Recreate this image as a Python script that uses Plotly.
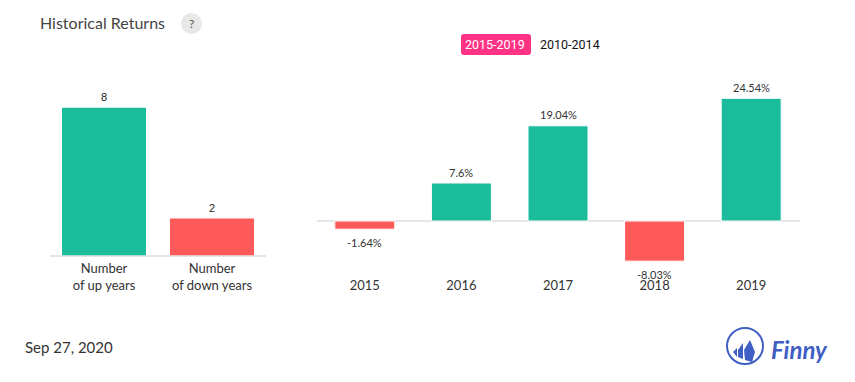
import plotly.graph_objects as go

W, H = 855, 382
GREEN, RED = "#1abc9c", "#ff5a5a"

count_labels = ["Number<br>of up years", "Number<br>of down years"]
count_values = [8, 2]
years = ["2015", "2016", "2017", "2018", "2019"]
returns = [-1.64, 7.6, 19.04, -8.03, 24.54]
return_labels = ["-1.64%", "7.6%", "19.04%", "-8.03%", "24.54%"]


def px(x):
    return x / W


def py(y):
    return 1 - y / H


fig = go.Figure()
fig.add_bar(x=count_labels, y=count_values, xaxis="x", yaxis="y", width=84 / 108,
            marker=dict(color=[GREEN, RED], line=dict(width=0)), hoverinfo="skip")
fig.add_bar(x=years, y=returns, xaxis="x2", yaxis="y2", width=60 / 96.6,
            marker=dict(color=[GREEN if v > 0 else RED for v in returns],
                        line=dict(color="white", width=1)), hoverinfo="skip")

axis_font = dict(family="Lato", size=13, color="#333333")
fig.update_layout(
    width=W, height=H, margin=dict(l=0, r=0, t=0, b=0, autoexpand=False), showlegend=False,
    paper_bgcolor="white", plot_bgcolor="white",
    xaxis=dict(domain=[px(50), px(266)], anchor="y", type="category", automargin=False, showgrid=False,
               zeroline=False, showline=False, ticks="outside", ticklen=1, tickcolor="rgba(0,0,0,0)",
               range=[-0.5, 1.5], tickfont=axis_font, tickangle=0),
    yaxis=dict(domain=[py(255.5), py(107.5)], range=[0, 8], anchor="x", automargin=False,
               showticklabels=False, ticks="", showgrid=False, zeroline=True,
               zerolinecolor="#e6e6e6", zerolinewidth=2),
    xaxis2=dict(domain=[px(316.5), px(799.5)], anchor="y2", type="category", automargin=False, showgrid=False,
                zeroline=False, showline=False, ticks="outside", ticklen=2, tickcolor="rgba(0,0,0,0)",
                range=[-0.5, 4.5], categoryorder="array", categoryarray=years,
                tickfont=axis_font, tickangle=0),
    yaxis2=dict(domain=[py(271), py(91)], range=[-10, 26], anchor="x2", automargin=False,
                showticklabels=False, ticks="", showgrid=False, zeroline=True,
                zerolinecolor="#e6e6e6", zerolinewidth=2),
)

ann = []
for i, v in enumerate(count_values):
    ann.append(dict(x=i, y=v, xref="x", yref="y", text=str(v), showarrow=False, yshift=10,
                    font=dict(family="Liberation Sans", size=11, color="#222222")))
for i, (v, t) in enumerate(zip(returns, return_labels)):
    ann.append(dict(x=i, y=v, xref="x2", yref="y2", text=t, showarrow=False,
                    yshift=11 if v > 0 else -13,
                    font=dict(family="Lato", size=11, color="#333333")))
ann += [
    dict(x=px(38), y=py(23), xref="paper", yref="paper", xanchor="left", yanchor="middle", showarrow=False,
         text="Historical Returns", font=dict(family="Lato", size=16, color="#444444")),
    dict(x=px(191.5), y=py(23.5), xref="paper", yref="paper", xanchor="center", yanchor="middle",
         showarrow=False, text="?", font=dict(family="Lato", size=12, color="#555555")),
    dict(x=px(495.5), y=py(45), xref="paper", yref="paper", xanchor="center", yanchor="middle",
         showarrow=False, text="2015-2019", font=dict(family="Roboto", size=12.5, color="white")),
    dict(x=px(570), y=py(45), xref="paper", yref="paper", xanchor="center", yanchor="middle",
         showarrow=False, text="2010-2014", font=dict(family="Roboto", size=12.5, color="#111111")),
    dict(x=px(23), y=py(347), xref="paper", yref="paper", xanchor="left", yanchor="middle", showarrow=False,
         text="Sep 27, 2020", font=dict(family="Lato", size=15, color="#333333")),
    dict(x=px(769), y=py(349), xref="paper", yref="paper", xanchor="left", yanchor="middle", showarrow=False,
         text="<b><i>Finny</i></b>", font=dict(family="Lato", size=24, color="#3f5fc4")),
]
fig.update_layout(annotations=ann)


def rel_path(points):
    return "M " + " L ".join(f"{px(x):.5f} {py(y):.5f}" for x, y in points) + " Z"


def round_rect(x0, y0, x1, y1, r):
    X = lambda v: f"{px(v):.5f}"
    Y = lambda v: f"{py(v):.5f}"
    return (f"M {X(x0 + r)} {Y(y0)} L {X(x1 - r)} {Y(y0)} Q {X(x1)} {Y(y0)} {X(x1)} {Y(y0 + r)} "
            f"L {X(x1)} {Y(y1 - r)} Q {X(x1)} {Y(y1)} {X(x1 - r)} {Y(y1)} "
            f"L {X(x0 + r)} {Y(y1)} Q {X(x0)} {Y(y1)} {X(x0)} {Y(y1 - r)} "
            f"L {X(x0)} {Y(y0 + r)} Q {X(x0)} {Y(y0)} {X(x0 + r)} {Y(y0)} Z")


BLUE = "#3f5fc4"
shapes = [
    dict(type="circle", xref="paper", yref="paper", x0=px(181), x1=px(202), y0=py(34), y1=py(13),
         fillcolor="#e8e8e8", line=dict(width=0), layer="below"),
    dict(type="path", xref="paper", yref="paper", path=round_rect(461, 34, 531, 55, 3),
         fillcolor="#ff3385", line=dict(width=0), layer="below"),
    dict(type="circle", xref="paper", yref="paper", x0=px(727), x1=px(763), y0=py(364), y1=py(328),
         line=dict(color=BLUE, width=2), fillcolor="white", layer="below"),
]
for pts in [
    [(737, 348), (733, 352), (737, 357)],
    [(743, 343), (738, 350), (738, 357), (743, 359)],
    [(750, 340), (744, 350), (745, 360), (752, 362), (755, 352)],
]:
    shapes.append(dict(type="path", xref="paper", yref="paper", path=rel_path(pts),
                       fillcolor=BLUE, line=dict(width=0)))
fig.update_layout(shapes=shapes)

fig.write_html("out.html", config=dict(displayModeBar=False),
               post_script="document.body.style.margin='0';")
